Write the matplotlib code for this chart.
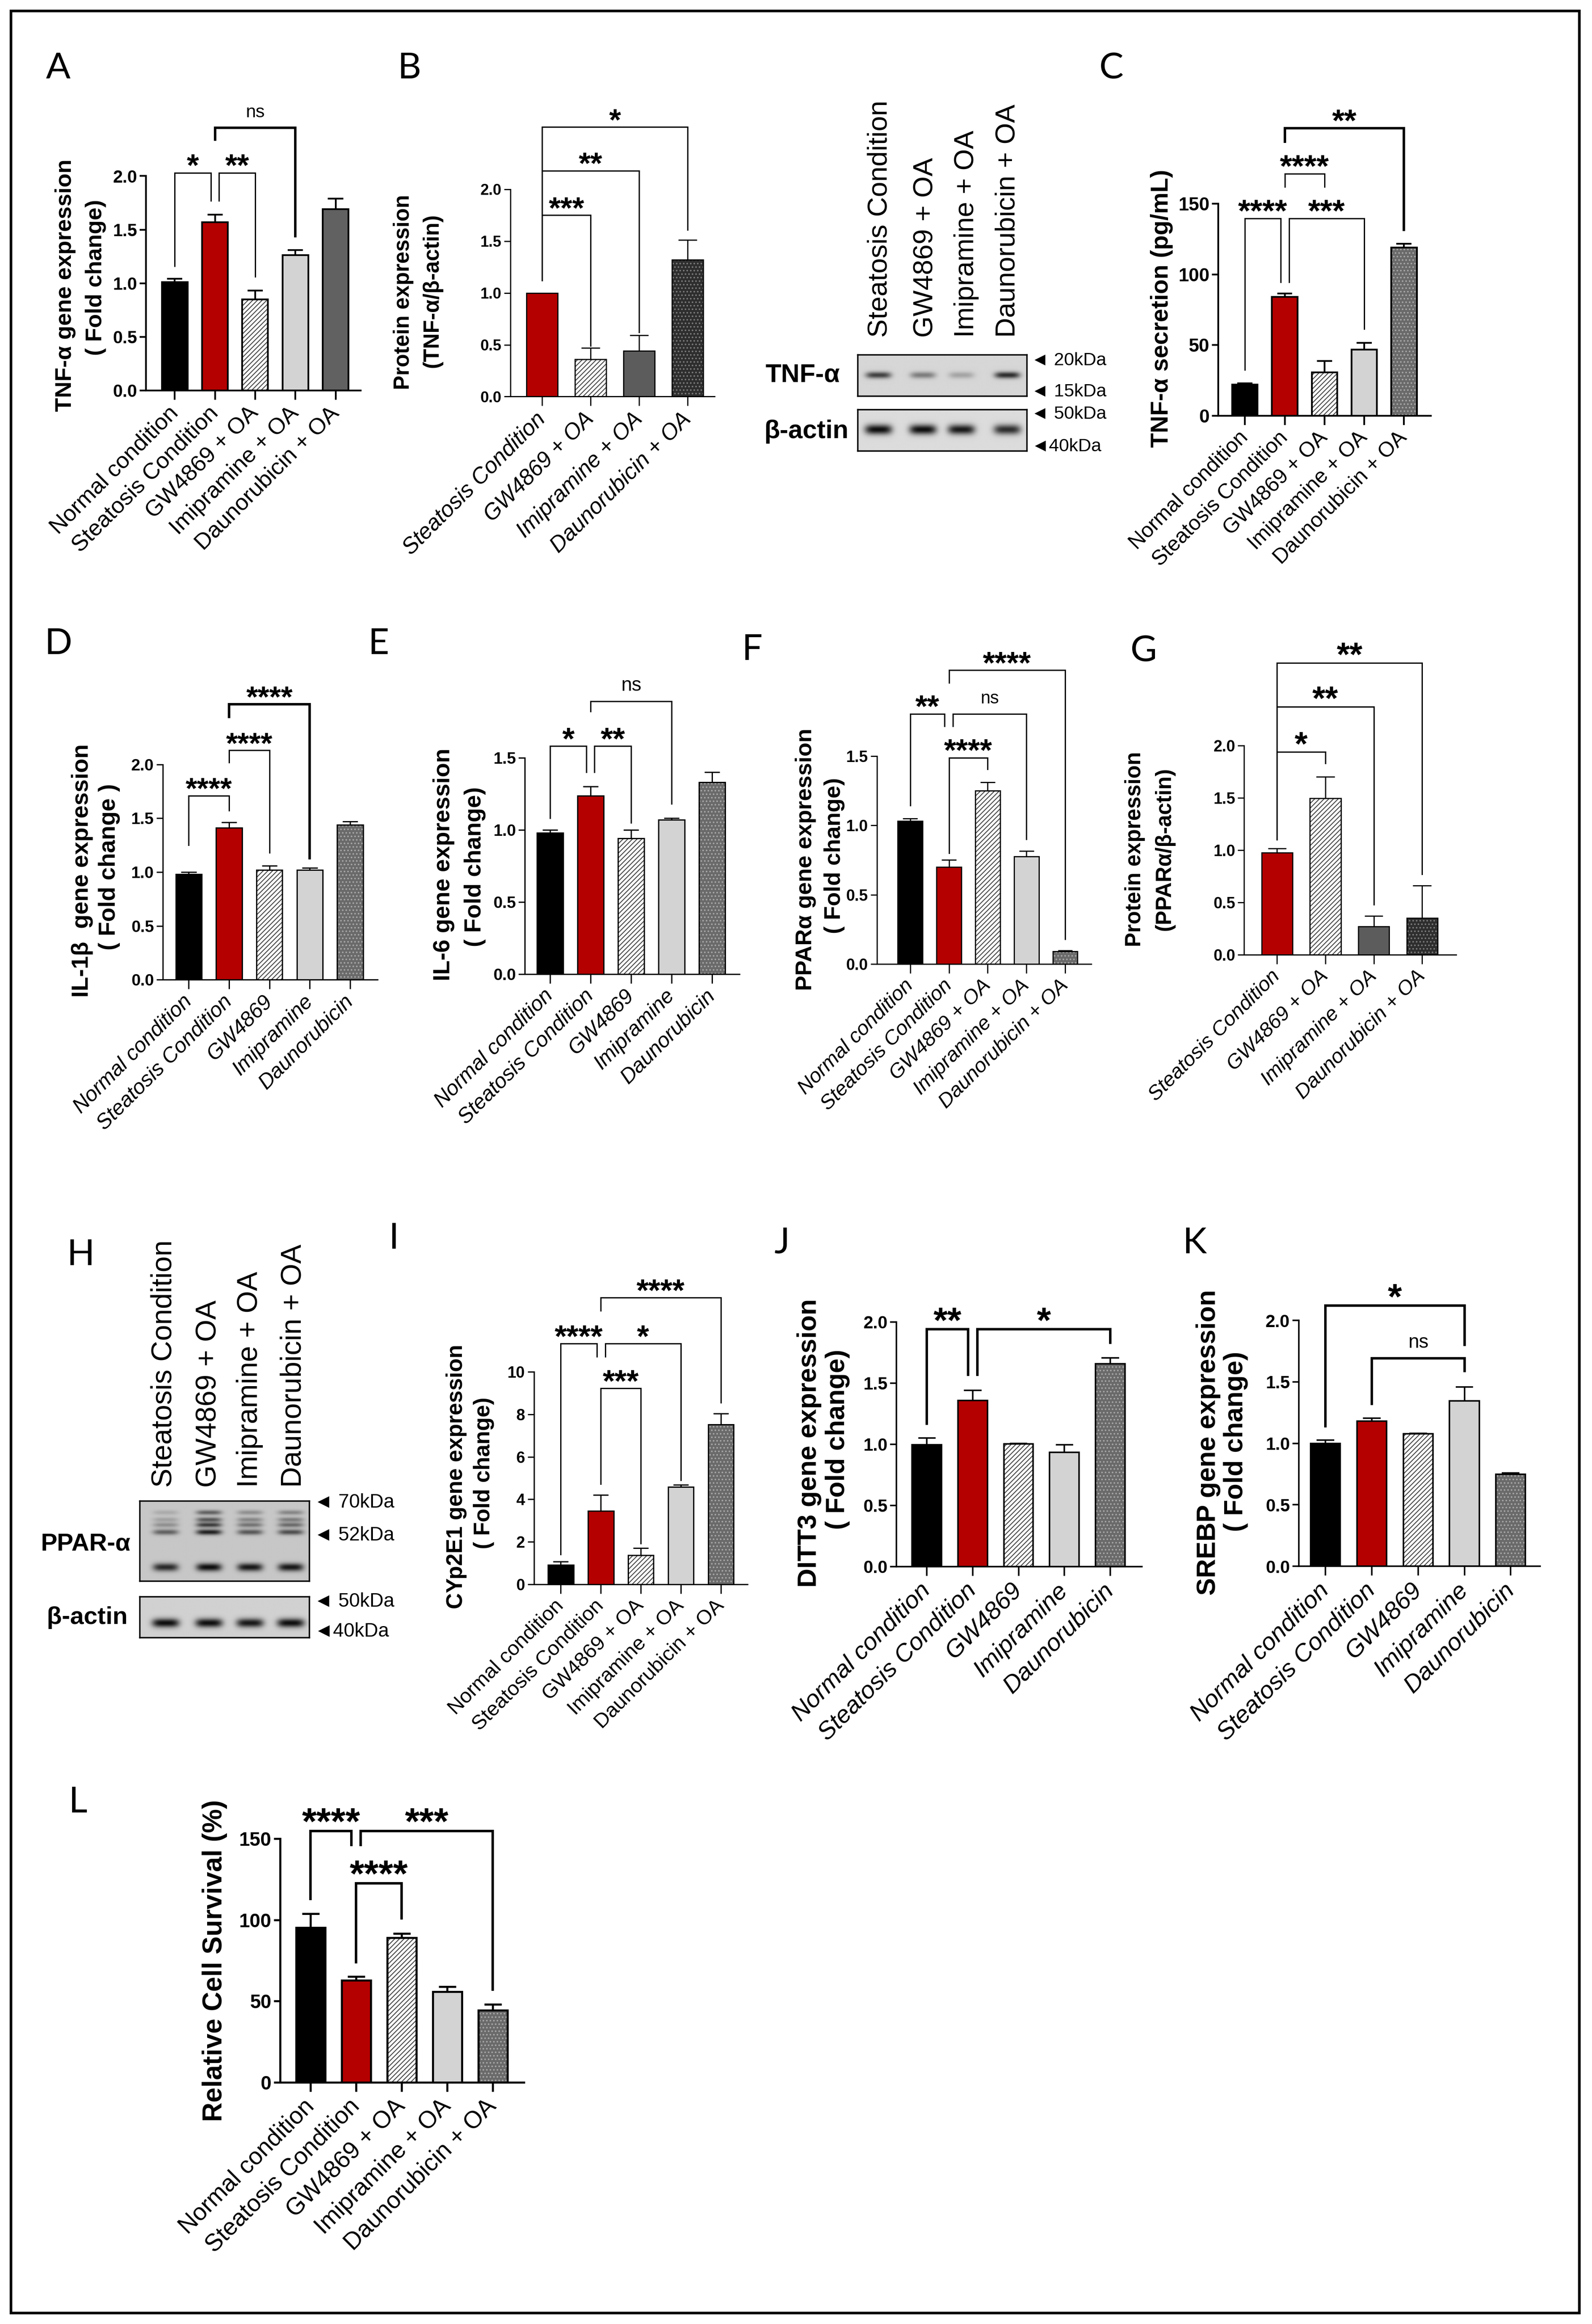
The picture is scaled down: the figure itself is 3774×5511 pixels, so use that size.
import numpy as np
import matplotlib
matplotlib.use("Agg")
import matplotlib.pyplot as plt
from matplotlib.patches import Rectangle

plt.rcParams['font.family'] = ['Liberation Sans', 'DejaVu Sans']
plt.rcParams['hatch.linewidth'] = 1.6

# ---------------- data ----------------

GROUPS = ["Normal condition", "Steatosis Condition", "GW4869 + OA",
          "Imipramine + OA", "Daunorubicin + OA"]
GROUPS_DRUG = ["Normal condition", "Steatosis Condition", "GW4869",
               "Imipramine", "Daunorubicin"]
GROUPS_OA = ["Steatosis Condition", "GW4869 + OA", "Imipramine + OA",
             "Daunorubicin + OA"]
BLOT_LANES = GROUPS_OA

# A - TNF-a gene expression (fold change)
tnf_gene = [1.01, 1.57, 0.85, 1.26, 1.69]
tnf_gene_sem = [0.03, 0.07, 0.08, 0.05, 0.10]
# B - TNF-a protein (TNF-a/b-actin)
tnf_prot = [1.00, 0.36, 0.44, 1.32]
tnf_prot_sem = [0.0, 0.11, 0.15, 0.19]
# C - TNF-a secretion (pg/mL)
tnf_secr = [22.0, 84.0, 30.7, 46.7, 119.0]
tnf_secr_sem = [1.0, 2.6, 7.9, 4.9, 2.7]
# D - IL-1b
il1b = [0.98, 1.41, 1.02, 1.02, 1.44]
il1b_sem = [0.02, 0.05, 0.04, 0.02, 0.03]
# E - IL-6
il6 = [0.98, 1.235, 0.94, 1.07, 1.33]
il6_sem = [0.02, 0.065, 0.06, 0.01, 0.07]
# F - PPARa gene
ppara_gene = [1.03, 0.70, 1.25, 0.775, 0.09]
ppara_gene_sem = [0.02, 0.05, 0.06, 0.04, 0.006]
# G - PPARa protein
ppara_prot = [0.976, 1.495, 0.27, 0.35]
ppara_prot_sem = [0.038, 0.205, 0.10, 0.31]
# I - CYp2E1
cyp2e1 = [0.90, 3.45, 1.36, 4.59, 7.53]
cyp2e1_sem = [0.17, 0.75, 0.34, 0.10, 0.51]
# J - DITT3
ditt3 = [0.995, 1.36, 1.003, 0.936, 1.66]
ditt3_sem = [0.055, 0.08, 0.005, 0.06, 0.048]
# K - SREBP
srebp = [1.00, 1.18, 1.077, 1.344, 0.75]
srebp_sem = [0.026, 0.024, 0.005, 0.115, 0.008]
# L - cell survival (%)
survival = [95.1, 62.7, 89.0, 55.8, 44.4]
survival_sem = [8.7, 2.5, 2.5, 3.1, 3.6]

# significance: (label, left x, right x, bracket y, left leg end, right leg end, thick)
sig_A = [("*", 0, 0.9, 2.03, 1.16, 1.77, 0), ("**", 1.1, 2, 2.03, 1.77, 1.06, 0),
         ("ns", 1, 3, 2.45, 2.34, 1.44, 1)]
sig_B = [("***", 0, 1, 1.75, 1.12, 0.49, 0), ("**", 0, 2, 2.18, 1.12, 0.62, 0),
         ("*", 0, 3, 2.60, 1.12, 1.61, 0)]
sig_C = [("****", 0, 0.9, 139.7, 32.5, 94.7, 0), ("***", 1.11, 3, 139.7, 94.7, 61.5, 0),
         ("****", 1, 2, 171.4, 162, 162, 0), ("**", 1, 4, 203.6, 194, 131.6, 1)]
sig_D = [("****", 0, 1, 1.71, 1.25, 1.57, 0), ("****", 1, 2, 2.13, 2.02, 1.18, 0),
         ("****", 1, 3, 2.56, 2.44, 1.13, 1)]
sig_E = [("*", 0, 0.9, 1.58, 1.08, 1.40, 0), ("**", 1.1, 2, 1.58, 1.40, 1.05, 0),
         ("ns", 1, 3, 1.89, 1.82, 1.18, 0)]
sig_F = [("**", 0, 0.88, 1.805, 1.145, 1.716, 0), ("ns", 1.1, 3, 1.805, 1.716, 0.90, 0),
         ("****", 1, 2, 1.488, 0.80, 1.404, 0), ("****", 1, 4, 2.12, 2.03, 0.18, 0)]
sig_G = [("*", 0, 1, 1.936, 1.10, 1.83, 0), ("**", 0, 2, 2.37, 1.10, 0.48, 0),
         ("**", 0, 3, 2.79, 1.10, 0.77, 0)]
sig_I = [("****", 0, 0.9, 11.33, 1.41, 10.71, 0), ("*", 1.11, 3, 11.33, 10.71, 4.9, 0),
         ("***", 1, 2, 9.23, 4.73, 1.92, 0), ("****", 1, 4, 13.49, 12.89, 8.55, 0)]
sig_J = [("**", 0, 0.9, 1.94, 1.17, 1.57, 1), ("*", 1.1, 4, 1.94, 1.57, 1.83, 1)]
sig_K = [("*", 0, 3, 2.12, 1.14, 1.80, 1), ("ns", 1, 3, 1.69, 1.32, 1.59, 1)]
sig_L = [("****", 0, 0.9, 154.5, 112.9, 146, 1), ("***", 1.1, 4, 154.5, 146, 57.2, 1),
         ("****", 1, 2, 122.5, 73.9, 101, 1)]

# western blot band intensities (0 = none, 1 = saturated), per lane
tnf_band = [0.75, 0.45, 0.25, 0.85]
tnf_actin_band = [1.0, 1.0, 0.95, 0.85]
ppar_bands = [[0.15, 0.55, 0.30, 0.35],
              [0.20, 0.60, 0.35, 0.40],
              [0.30, 0.75, 0.45, 0.50],
              [0.55, 0.90, 0.60, 0.65],
              [0.85, 1.00, 0.95, 0.95]]
ppar_actin_band = [1.0, 1.0, 0.95, 1.0]

# ---------------- layout helpers ----------------

W, H = 1073.0, 1567.0          # layout units (reference preview pixels)
fig = plt.figure(figsize=(37.74, 55.11), dpi=100)

def fx(x): return x / W
def fy(y): return 1 - y / H

STYLES = {
    'normal': ('#000000', None, None),
    'steat': ('#b50000', None, None),
    'gw': ('#ffffff', '///', '#4a4a4a'),
    'imi': ('#d3d3d3', None, None),
    'imi_dk': ('#5c5c5c', None, None),
    'dau': ('#616161', None, None),
    'dau_dot': ('#6a6a6a', '..', '#a8a8a8'),
    'dau_dk': ('#2e2e2e', '..', '#7c7c7c'),
}

def bar_panel(geom, vals, sems, styles, labels, ymax, ystep, yfmt, tick_fs,
              lab_fs, italic, lw, sigs, star_fs, ns_fs, ylab, ylab_fs):
    spine, c0, sp, end, y0, ytop = geom
    n = len(vals)
    ax = fig.add_axes([fx(spine), fy(y0), (end - spine) / W, (y0 - ytop) / H])
    ax.set_xlim(-(c0 - spine) / sp, (end - c0) / sp)
    ax.set_ylim(0, ymax)
    ax.patch.set_alpha(0)
    x = np.arange(n)
    bw = 0.64
    for xi, v, e, st in zip(x, vals, sems, styles):
        fc, hatch, hc = STYLES[st]
        if hatch:
            ax.bar(xi, v, bw, color=fc, edgecolor=hc, hatch=hatch, linewidth=0, zorder=2)
        else:
            ax.bar(xi, v, bw, color=fc, linewidth=0, zorder=2)
        ax.bar(xi, v, bw, fill=False, edgecolor='black', linewidth=lw, zorder=3)
        if e > 0:
            ax.vlines(xi, v, v + e, color='black', lw=lw, zorder=4)
            ax.hlines(v + e, xi - 0.19, xi + 0.19, color='black', lw=lw, zorder=4)

    for s in ('top', 'right'):
        ax.spines[s].set_visible(False)
    for s in ('left', 'bottom'):
        ax.spines[s].set_linewidth(lw)
    ticks = np.arange(0, ymax + ystep / 2, ystep)
    ax.set_yticks(ticks)
    ax.set_yticklabels([yfmt % t for t in ticks], fontsize=tick_fs, fontweight='bold')
    ax.set_xticks(x)
    ax.set_xticklabels(labels, fontsize=lab_fs, style='italic' if italic else 'normal',
                       rotation=45, ha='right', va='center', rotation_mode='anchor')
    ax.tick_params(axis='x', length=16, width=lw, pad=0.45 * lab_fs)
    ax.tick_params(axis='y', length=11, width=lw, pad=4)

    for lab, xa, xb, yb, ya_end, yb_end, thick in sigs:
        ax.plot([xa, xa, xb, xb], [ya_end, yb, yb, yb_end], color='black',
                lw=4.2 if thick else 2.2, clip_on=False, solid_joinstyle='miter')
        if lab == 'ns':
            ax.annotate(lab, ((xa + xb) / 2, yb), xytext=(0, 18), textcoords='offset points',
                        ha='center', va='baseline', fontsize=ns_fs, annotation_clip=False)
        else:
            ax.annotate(lab, ((xa + xb) / 2, yb), xytext=(0, -5), textcoords='offset points',
                        ha='center', va='baseline', fontsize=star_fs, fontweight='bold',
                        annotation_clip=False)

    for txt, xc, yc in ylab:
        fig.text(fx(xc), fy(yc), txt, rotation=90, ha='center', va='center',
                 fontsize=ylab_fs, fontweight='bold')
    return ax


def blot_box(box, lanes, rows, bg, lw=2.5):
    x0, y0, x1, y1 = box
    ax = fig.add_axes([fx(x0), fy(y1), (x1 - x0) / W, (y1 - y0) / H])
    X, Y = np.meshgrid(np.linspace(0, 1, 500), np.linspace(0, 1, 200))
    dark = np.zeros_like(X)
    for yc, hh, ww, ints in rows:
        for xc, a in zip(lanes, ints):
            dark += a * np.exp(-((X - xc) / ww) ** 4 - ((Y - yc) / hh) ** 2)
    img = bg * (1 - 0.93 * np.clip(dark, 0, 1))
    ax.imshow(img, cmap='gray', vmin=0, vmax=1, extent=(0, 1, 1, 0),
              aspect='auto', interpolation='bilinear')
    ax.set_xticks([])
    ax.set_yticks([])
    for s in ax.spines.values():
        s.set_linewidth(lw)
    return ax

# ---------------- panels ----------------

bar_panel((98.5, 117.8, 27.1, 243, 263.2, 118.7), tnf_gene, tnf_gene_sem,
          ['normal', 'steat', 'gw', 'imi', 'dau'], GROUPS, 2.0, 0.5, '%.1f', 30,
          39, False, 3.0, sig_A, 53, 31,
          [("TNF-α gene expression", 44, 192.5), ("( Fold change)", 64.5, 187)], 39)

bar_panel((344, 365.4, 32.7, 481.6, 267.4, 127.6), tnf_prot, tnf_prot_sem,
          ['steat', 'gw', 'imi_dk', 'dau_dk'], GROUPS_OA, 2.0, 0.5, '%.1f', 26,
          38, True, 2.0, sig_B, 52, 30,
          [("Protein expression", 272, 197), ("(TNF-α/β-actin)", 291.5, 196)], 37)

bar_panel((821.1, 839.1, 26.8, 964.3, 280.3, 137.4), tnf_secr, tnf_secr_sem,
          ['normal', 'steat', 'gw', 'imi', 'dau_dot'], GROUPS, 150, 50, '%d', 32,
          36, False, 3.0, sig_C, 54, 30,
          [("TNF-α secretion (pg/mL)", 783, 208)], 41)

bar_panel((109.7, 127.2, 27.2, 254.4, 660.6, 515.4), il1b, il1b_sem,
          ['normal', 'steat', 'gw', 'imi', 'dau_dot'], GROUPS_DRUG, 2.0, 0.5, '%.1f', 28,
          36, True, 2.2, sig_D, 51, 30,
          [("IL-1β  gene expression", 55.5, 587), ("( Fold change )", 73.5, 584.5)], 40)

bar_panel((353.8, 370.7, 27.3, 498.4, 656.7, 510.9), il6, il6_sem,
          ['normal', 'steat', 'gw', 'imi', 'dau_dot'], GROUPS_DRUG, 1.5, 0.5, '%.1f', 28,
          36, True, 2.2, sig_E, 54, 33,
          [("IL-6 gene expression", 299, 583), ("( Fold change)", 320, 584.5)], 40)

bar_panel((591, 613.5, 26.1, 735.5, 650, 509.8), ppara_gene, ppara_gene_sem,
          ['normal', 'steat', 'gw', 'imi', 'dau_dot'], GROUPS, 1.5, 0.5, '%.1f', 27,
          35, True, 2.0, sig_F, 53, 30,
          [("PPARα gene expression", 543, 579.5), ("( Fold change)", 562.5, 577)], 39)

bar_panel((838.5, 860.7, 32.6, 981.4, 643.7, 502.6), ppara_prot, ppara_prot_sem,
          ['steat', 'gw', 'imi_dk', 'dau_dk'], GROUPS_OA, 2.0, 0.5, '%.1f', 27,
          35, True, 2.0, sig_G, 57, 30,
          [("Protein expression", 765, 572.5), ("(PPARα/β-actin)", 785, 572.6)], 37)

bar_panel((359.8, 377.9, 27.0, 503.8, 1068.2, 925), cyp2e1, cyp2e1_sem,
          ['normal', 'steat', 'gw', 'imi', 'dau_dot'], GROUPS, 10, 2, '%d', 27,
          35, False, 2.2, sig_I, 53, 30,
          [("CYp2E1 gene expression", 307.6, 995.6), ("( Fold change)", 326, 993.2)], 38)

bar_panel((604.3, 624.7, 30.9, 769.7, 1056.3, 891.4), ditt3, ditt3_sem,
          ['normal', 'steat', 'gw', 'imi', 'dau_dot'], GROUPS_DRUG, 2.0, 0.5, '%.1f', 30,
          42, True, 2.6, sig_J, 62, 33,
          [("DITT3 gene expression", 545.5, 973), ("( Fold change)", 564.6, 970.5)], 45)

bar_panel((875.3, 893.4, 31.2, 1038, 1056.1, 890.3), srebp, srebp_sem,
          ['normal', 'steat', 'gw', 'imi', 'dau_dot'], GROUPS_DRUG, 2.0, 0.5, '%.1f', 30,
          42, True, 2.6, sig_K, 62, 33,
          [("SREBP gene expression", 814.5, 972.6), ("( Fold change)", 833, 972)], 45)

bar_panel((188.8, 209.3, 30.7, 353, 1404.2, 1239.6), survival, survival_sem,
          ['normal', 'steat', 'gw', 'imi', 'dau_dot'], GROUPS, 150, 50, '%d', 33,
          41, False, 3.5, sig_L, 64, 30,
          [("Relative Cell Survival (%)", 144.6, 1322)], 46)

# ---------------- western blots ----------------

# TNF-a blot (panel B, right)
tnf_lanes = [0.123, 0.386, 0.614, 0.886]
blot_box((578, 239, 692, 267), tnf_lanes, [(0.5, 0.08, 0.075, tnf_band)], 0.84)
blot_box((578, 276, 692, 304), tnf_lanes, [(0.49, 0.12, 0.08, tnf_actin_band)], 0.86)
for lab, xc in zip(BLOT_LANES, [593, 624, 651.5, 679]):
    fig.text(fx(xc), fy(227.6), lab, rotation=90, ha='center', va='bottom', fontsize=47)
fig.text(fx(566), fy(253), "TNF-α", ha='right', va='center', fontsize=44, fontweight='bold')
fig.text(fx(572), fy(291), "β-actin", ha='right', va='center', fontsize=44, fontweight='bold')
for lab, yc in [("◄ 20kDa", 243), ("◄ 15kDa", 264), ("◄ 50kDa", 279), ("◄40kDa", 301)]:
    fig.text(fx(695), fy(yc), lab, ha='left', va='center', fontsize=31)

# PPAR-a blot (panel H)
ppar_lanes = [0.153, 0.408, 0.650, 0.890]
ppar_rows = [(yc, hh, 0.075, ints) for (yc, hh), ints in
             zip([(0.144, 0.03), (0.234, 0.03), (0.30, 0.03), (0.39, 0.035), (0.83, 0.05)],
                 ppar_bands)]
blot_box((94, 1012, 208.4, 1066), ppar_lanes, ppar_rows, 0.78)
blot_box((94, 1076.5, 208.4, 1104), ppar_lanes, [(0.646, 0.11, 0.08, ppar_actin_band)], 0.82)
for lab, xc in zip(BLOT_LANES, [110.5, 140.7, 168.4, 197.6]):
    fig.text(fx(xc), fy(1003), lab, rotation=90, ha='center', va='bottom', fontsize=49)
fig.text(fx(88), fy(1041), "PPAR-α", ha='right', va='center', fontsize=42, fontweight='bold')
fig.text(fx(86), fy(1090.6), "β-actin", ha='right', va='center', fontsize=42, fontweight='bold')
for lab, yc in [("◄ 70kDa", 1013), ("◄ 52kDa", 1035), ("◄ 50kDa", 1079.7), ("◄40kDa", 1100)]:
    fig.text(fx(211.5), fy(yc), lab, ha='left', va='center', fontsize=33)

# ---------------- panel letters & frame ----------------

for letter, xl, yb in [("A", 31, 53), ("B", 268, 53), ("C", 741, 53), ("D", 30, 441),
                       ("E", 248, 441), ("F", 500, 445), ("G", 762, 446), ("H", 45, 853),
                       ("I", 262, 842), ("J", 522, 845), ("K", 797, 845), ("L", 46, 1222)]:
    fig.text(fx(xl), fy(yb), letter, ha='left', va='baseline', fontsize=62,
             family=['Lato', 'Liberation Sans', 'DejaVu Sans'])

fig.add_artist(Rectangle((fx(7.5), fy(1559.5)), (1064.4 - 7.5) / W, (1559.5 - 7.3) / H,
                         transform=fig.transFigure, fill=False, lw=4.5, ec='black'))

fig.savefig("out.png", dpi=100, facecolor='white')
